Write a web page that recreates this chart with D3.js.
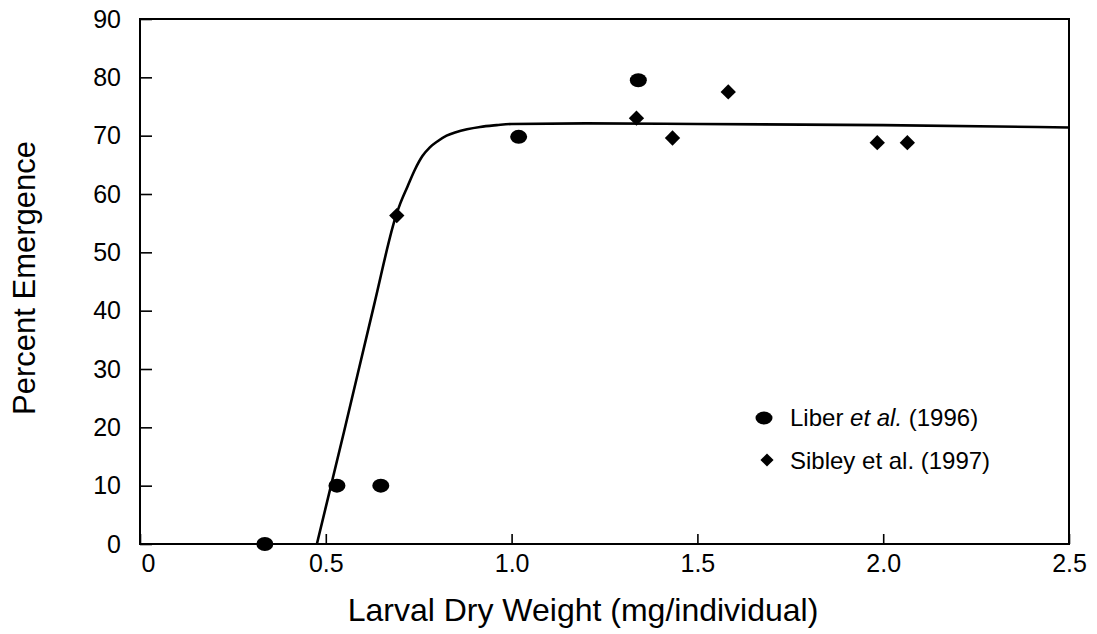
<!DOCTYPE html>
<html>
<head>
<meta charset="utf-8">
<script src="https://cdn.jsdelivr.net/npm/d3@7"></script>
<style>
  body { margin: 0; background: #fff; }
  svg { display: block; font-family: "Liberation Sans", Arial, sans-serif; }
</style>
</head>
<body>
<svg width="1097" height="634"></svg>
<script>
// Данные: Liber et al. (1996) — круги
const liberX = [0.336, 0.53, 0.648, 1.019, 1.341];
const liberY = [0, 10, 10, 69.8, 79.5];

// Данные: Sibley et al. (1997) — ромбы
const sibleyX = [0.691, 1.336, 1.433, 1.583, 1.984, 2.065];
const sibleyY = [56.3, 73.0, 69.6, 77.5, 68.8, 68.8];

// Точки подобранной кривой
const fitX = [0.476, 0.55, 0.63, 0.69, 0.70, 0.72, 0.74, 0.76, 0.78, 0.80, 0.825, 0.85, 0.88, 0.915, 0.96, 1.00, 1.20, 1.50, 2.00, 2.50];
const fitY = [0, 19.5, 41, 56.5, 58.3, 61.3, 64.2, 66.5, 68.0, 69.0, 70.0, 70.6, 71.1, 71.5, 71.8, 72.0, 72.1, 72.0, 71.8, 71.4];

// Подписи делений
const xTicks = [0, 0.5, 1.0, 1.5, 2.0, 2.5];
const xTickLabels = ["0", "0.5", "1.0", "1.5", "2.0", "2.5"];
const yTicks = [0, 10, 20, 30, 40, 50, 60, 70, 80, 90];

const legendLabels = ["Liber et al. (1996)", "Sibley et al. (1997)"];

const svg = d3.select("svg");

const attr_area = { left: 140, right: 1069, top: 19, bottom: 544 };

const scX = d3.scaleLinear().domain([0, 2.5]).range([attr_area.left, attr_area.right]);
const scY = d3.scaleLinear().domain([0, 90]).range([attr_area.bottom, attr_area.top]);

// Рамка графика
svg.append("rect")
   .attr("x", scX(0))
   .attr("y", scY(90))
   .attr("width", scX(2.5) - scX(0))
   .attr("height", scY(0) - scY(90))
   .attr("fill", "none")
   .attr("stroke", "#000")
   .attr("stroke-width", 2);

// Ось X (деления внутрь)
const gx = svg.append("g")
   .attr("transform", `translate(0, ${scY(0)})`)
   .call(d3.axisBottom(scX)
      .tickValues(xTicks)
      .tickFormat((d, i) => xTickLabels[i])
      .tickSize(-10)
      .tickPadding(10));
gx.select(".domain").remove();
gx.selectAll("line").attr("stroke", "#000").attr("stroke-width", 1.6);
gx.selectAll("text")
  .attr("font-size", 25)
  .attr("font-family", "Liberation Sans, Arial, sans-serif")
  .attr("fill", "#000")
  .attr("dx", d => d === 0 ? 8 : 0);

// Ось Y
const gy = svg.append("g")
   .attr("transform", `translate(${scX(0)}, 0)`)
   .call(d3.axisLeft(scY)
      .tickValues(yTicks)
      .tickSize(-12)
      .tickPadding(19));
gy.select(".domain").remove();
gy.selectAll("line").attr("stroke", "#000").attr("stroke-width", 1.6);
gy.selectAll("text")
  .attr("font-size", 25)
  .attr("font-family", "Liberation Sans, Arial, sans-serif")
  .attr("fill", "#000");

// Подписи осей
svg.append("text")
   .attr("x", 583)
   .attr("y", 621)
   .attr("text-anchor", "middle")
   .attr("font-size", 32)
   .text("Larval Dry Weight (mg/individual)");

svg.append("text")
   .attr("transform", "translate(35, 278) rotate(-90)")
   .attr("text-anchor", "middle")
   .attr("font-size", 31)
   .text("Percent Emergence");

// Кривая
const fitData = fitX.map((x, i) => ({ x: x, y: fitY[i] }));
const lineGenerator = d3.line()
   .x(d => scX(d.x))
   .y(d => scY(d.y))
   .curve(d3.curveMonotoneX);

svg.append("path")
   .datum(fitData)
   .attr("fill", "none")
   .attr("stroke", "#000")
   .attr("stroke-width", 2.6)
   .attr("d", lineGenerator);

// Круги
const liberData = liberX.map((x, i) => ({ x: x, y: liberY[i] }));
svg.selectAll(".liber")
   .data(liberData)
   .enter()
   .append("ellipse")
   .attr("class", "liber")
   .attr("cx", d => scX(d.x))
   .attr("cy", d => scY(d.y))
   .attr("rx", 8.5)
   .attr("ry", 7)
   .attr("fill", "#000");

// Ромбы
const diamond = d3.symbol().type(d3.symbolDiamond2).size(150);
const sibleyData = sibleyX.map((x, i) => ({ x: x, y: sibleyY[i] }));
svg.selectAll(".sibley")
   .data(sibleyData)
   .enter()
   .append("path")
   .attr("class", "sibley")
   .attr("d", diamond)
   .attr("transform", d => `translate(${scX(d.x)}, ${scY(d.y)})`)
   .attr("fill", "#000");

// Легенда
const legend = svg.append("g").attr("font-size", 24);
legend.append("ellipse")
   .attr("cx", 764).attr("cy", 418).attr("rx", 8.5).attr("ry", 6.5).attr("fill", "#000");
const t1 = legend.append("text").attr("x", 790).attr("y", 426);
t1.append("tspan").text("Liber ");
t1.append("tspan").attr("font-style", "italic").text("et al.");
t1.append("tspan").text(" (1996)");

legend.append("path")
   .attr("d", d3.symbol().type(d3.symbolDiamond2).size(110))
   .attr("transform", "translate(767, 460)")
   .attr("fill", "#000");
legend.append("text").attr("x", 790).attr("y", 469).text(legendLabels[1]);
</script>
</body>
</html>
